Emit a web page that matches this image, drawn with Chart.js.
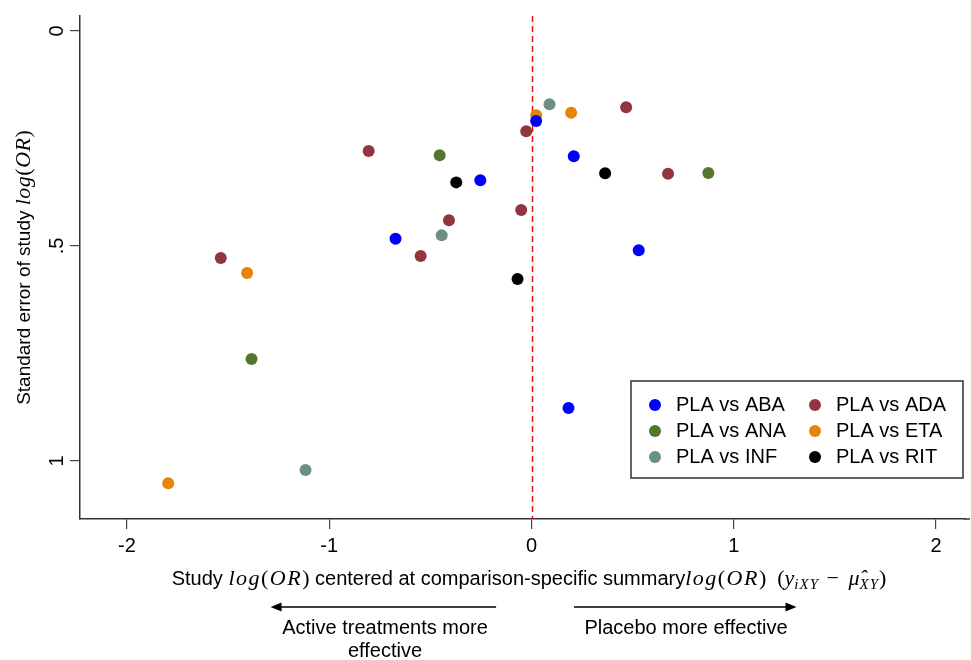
<!DOCTYPE html>
<html>
<head>
<meta charset="utf-8">
<title>Comparison-adjusted funnel plot</title>
<script src="https://cdn.jsdelivr.net/npm/chart.js@4"></script>
<style>
    html, body { margin: 0; padding: 0; background: #fff; }
</style>
</head>
<body>
<canvas id="funnelChart" width="971" height="660"></canvas>
<script>
// Funnel plot data: centred log(OR) (x) and standard error (se) per study
const seriesLabels = ['PLA vs ABA', 'PLA vs ADA', 'PLA vs ANA', 'PLA vs ETA', 'PLA vs INF', 'PLA vs RIT'];
const seriesColors = ['#0000ff', '#93353e', '#55762e', '#e8830a', '#6d8f82', '#000000'];

const abaX  = [0.023, 0.209, -0.253, -0.672, 0.530, 0.183];
const abaSE = [0.209, 0.291, 0.347, 0.483, 0.510, 0.877];

const adaX  = [0.468, -0.026, -0.805, 0.675, -0.051, -0.408, -0.548, -1.536];
const adaSE = [0.177, 0.233, 0.279, 0.332, 0.416, 0.440, 0.523, 0.528];

const anaX  = [-0.454, 0.874, -1.384];
const anaSE = [0.289, 0.330, 0.763];

const etaX  = [0.023, 0.196, -1.406, -1.796];
const etaSE = [0.196, 0.190, 0.563, 1.052];

const infX  = [0.089, -0.444, -1.117];
const infSE = [0.170, 0.475, 1.021];

const ritX  = [0.364, -0.372, -0.069];
const ritSE = [0.331, 0.352, 0.577];

const xTicks = [-2, -1, 0, 1, 2];
const yTicks = [0, 0.5, 1];
const yTickLabels = ['0', '.5', '1'];

const seriesX  = [abaX, adaX, anaX, etaX, infX, ritX];
const seriesSE = [abaSE, adaSE, anaSE, etaSE, infSE, ritSE];

const SANS = '"Liberation Sans", Arial, sans-serif';
const SERIF = '"Liberation Serif", "DejaVu Serif", serif';
const sans = '20px ' + SANS;
const math = 'italic 22px ' + SERIF;
const mathUp = '22px ' + SERIF;
const sub = 'italic 15px ' + SERIF;

// draw a line of mixed-font text centred on (cx, cy); math runs get a little tracking
function drawRuns(ctx, runs, cx, cy, angle) {
    ctx.save();
    ctx.translate(cx, cy);
    ctx.rotate(angle || 0);
    ctx.textBaseline = 'alphabetic';
    ctx.textAlign = 'left';
    const widthOf = r => {
        ctx.font = r.f;
        ctx.letterSpacing = (r.ls || 0) + 'px';
        return ctx.measureText(r.t).width;
    };
    let total = 0;
    runs.forEach(r => { total += widthOf(r); });
    let x = -total / 2;
    runs.forEach(r => {
        const w = widthOf(r);
        ctx.fillText(r.t, x, 7 + (r.dy || 0));
        x += w;
    });
    ctx.restore();
}

function logOR(ls) {
    return [
        { t: 'log', f: math, ls: ls }, { t: '(', f: mathUp, ls: ls },
        { t: 'OR', f: math, ls: ls }, { t: ')', f: mathUp }
    ];
}

function arrow(ctx, x1, x2, y) {
    const dir = Math.sign(x2 - x1);
    ctx.beginPath();
    ctx.moveTo(x1, y);
    ctx.lineTo(x2 - dir * 8, y);
    ctx.stroke();
    ctx.beginPath();
    ctx.moveTo(x2, y);
    ctx.lineTo(x2 - dir * 11, y - 4.5);
    ctx.lineTo(x2 - dir * 11, y + 4.5);
    ctx.closePath();
    ctx.fill();
}

const funnelExtras = {
    id: 'funnelExtras',
    beforeDatasetsDraw(chart) {
        const ctx = chart.ctx;
        const area = chart.chartArea;
        const xs = chart.scales.x;
        const x0 = Math.round(xs.getPixelForValue(0)) + 0.5;
        ctx.save();
        ctx.strokeStyle = '#e8120c';
        ctx.lineWidth = 1.5;
        ctx.setLineDash([6, 4]);
        ctx.beginPath();
        ctx.moveTo(x0, area.top);
        ctx.lineTo(x0, area.bottom);
        ctx.stroke();
        ctx.restore();
    },
    afterDraw(chart) {
        const ctx = chart.ctx;
        const area = chart.chartArea;
        const xs = chart.scales.x;
        const ys = chart.scales.y;
        ctx.save();
        ctx.fillStyle = '#000';

        // bottom axis runs on to the canvas edge
        ctx.strokeStyle = '#333';
        ctx.lineWidth = 1.5;
        ctx.beginPath();
        ctx.moveTo(area.right - 1, area.bottom);
        ctx.lineTo(chart.width - 1, area.bottom);
        ctx.stroke();

        // rotated y tick labels
        ctx.font = sans;
        yTicks.forEach((v, i) => {
            ctx.save();
            ctx.translate(57, ys.getPixelForValue(v));
            ctx.rotate(-Math.PI / 2);
            ctx.textAlign = 'center';
            ctx.textBaseline = 'middle';
            ctx.fillText(yTickLabels[i], 0, 0);
            ctx.restore();
        });

        // axis titles
        drawRuns(ctx, [{ t: 'Standard error of study ', f: '19px ' + SANS }].concat(logOR(0.5)),
            23, (area.top + area.bottom) / 2, -Math.PI / 2);

        drawRuns(ctx, [{ t: 'Study ', f: sans }]
            .concat(logOR(1.5))
            .concat([{ t: ' centered at comparison-specific summary', f: sans }])
            .concat(logOR(1.5))
            .concat([
                { t: '  (', f: mathUp },
                { t: 'y', f: math }, { t: 'iXY', f: sub, dy: 4, ls: 1 },
                { t: ' \u2212 ', f: mathUp, ls: 2 },
                { t: '\u03BC\u0302', f: math }, { t: 'XY', f: sub, dy: 4, ls: 1 },
                { t: ')', f: mathUp }
            ]), 529, 578, 0);

        // direction arrows and notes
        ctx.strokeStyle = '#000';
        ctx.lineWidth = 1.5;
        arrow(ctx, xs.getPixelForValue(-0.175), xs.getPixelForValue(-1.29), 607);
        arrow(ctx, xs.getPixelForValue(0.21), xs.getPixelForValue(1.31), 607);
        ctx.font = sans;
        ctx.textAlign = 'center';
        ctx.textBaseline = 'middle';
        ctx.fillText('Active treatments more', 385, 628);
        ctx.fillText('effective', 385, 651);
        ctx.fillText('Placebo more effective', 686, 628);

        // legend box, two columns
        ctx.lineWidth = 1.5;
        ctx.strokeStyle = '#333';
        ctx.strokeRect(631, 381, 332, 97);
        ctx.textAlign = 'left';
        chart.data.datasets.forEach((ds, i) => {
            const col = i % 2;
            const row = Math.floor(i / 2);
            const mx = 655 + col * 160;
            const my = 405 + row * 26;
            ctx.fillStyle = ds.backgroundColor;
            ctx.beginPath();
            ctx.arc(mx, my, 6, 0, Math.PI * 2);
            ctx.fill();
            ctx.fillStyle = '#000';
            ctx.fillText(ds.label, mx + 21, my);
        });
        ctx.restore();
    }
};

const datasets = seriesLabels.map((label, i) => ({
    label: label,
    data: seriesX[i].map((x, j) => ({ x: x, y: seriesSE[i][j] })),
    backgroundColor: seriesColors[i],
    borderColor: seriesColors[i],
    pointRadius: 6,
    pointBorderWidth: 0,
    showLine: false
}));

new Chart(document.getElementById('funnelChart'), {
    type: 'scatter',
    data: { datasets: datasets },
    options: {
        responsive: false,
        animation: false,
        layout: { padding: { top: 16, right: 0, left: 0, bottom: 0 } },
        plugins: {
            legend: { display: false },
            tooltip: { enabled: false }
        },
        scales: {
            x: {
                type: 'linear',
                min: -2.232,
                max: 2.143,
                afterBuildTicks: s => { s.ticks = xTicks.map(v => ({ value: v })); },
                afterFit: s => { s.height = 141; s.paddingLeft = 0; s.paddingRight = 0; },
                ticks: {
                    color: '#000',
                    font: { family: SANS, size: 20 },
                    padding: 5,
                    maxRotation: 0,
                    callback: v => String(v)
                },
                grid: { drawOnChartArea: false, drawTicks: true, tickLength: 10, color: '#444', lineWidth: 1.2 },
                border: { display: true, color: '#333', width: 1.5 }
            },
            y: {
                type: 'linear',
                reverse: true,
                min: -0.035,
                max: 1.135,
                afterBuildTicks: s => { s.ticks = yTicks.map(v => ({ value: v })); },
                afterFit: s => { s.width = 80; s.paddingTop = 0; s.paddingBottom = 0; },
                ticks: { color: 'rgba(0,0,0,0)', font: { family: SANS, size: 20 } },
                grid: { drawOnChartArea: false, drawTicks: true, tickLength: 10, color: '#444', lineWidth: 1.2 },
                border: { display: true, color: '#333', width: 1.5 }
            }
        }
    },
    plugins: [funnelExtras]
});
</script>
</body>
</html>
